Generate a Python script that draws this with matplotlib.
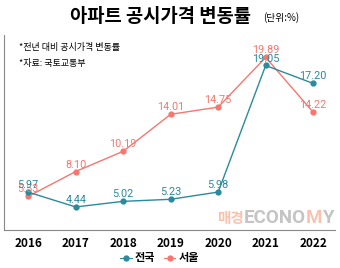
import matplotlib.pyplot as plt
from matplotlib.lines import Line2D

plt.rcParams['font.family'] = ['Noto Sans CJK KR', 'DejaVu Sans']

years = [2016, 2017, 2018, 2019, 2020, 2021, 2022]
national = [5.97, 4.44, 5.02, 5.23, 5.98, 19.05, 17.20]
seoul = [5.53, 8.10, 10.19, 14.01, 14.75, 19.89, 14.22]
nat_labels = ['5.97', '4.44', '5.02', '5.23', '5.98', '19.05', '17.20']
seoul_labels = ['5.53', '8.10', '10.19', '14.01', '14.75', '19.89', '14.22']

teal = '#2b8a9c'
salmon = '#f7766e'

fig = plt.figure(figsize=(3.4, 2.68), dpi=100)
ax = fig.add_axes([4/340, 1 - 230/268, 331/340, 195/268])

ax.plot(years, seoul, color=salmon, lw=1, marker='o', ms=3.5, zorder=3)
ax.plot(years, national, color=teal, lw=1, marker='o', ms=3.5, zorder=4)

for x, y, t in zip(years, seoul, seoul_labels):
    ax.annotate(t, (x, y), xytext=(0, 5), textcoords='offset points',
                ha='center', va='center', color=salmon, fontsize=7.8,
                family='Roboto', zorder=5)
for x, y, t in zip(years, national, nat_labels):
    ax.annotate(t, (x, y), xytext=(0, 5), textcoords='offset points',
                ha='center', va='center', color=teal, fontsize=7.8,
                family='Roboto', zorder=6)

ax.set_xlim(2015.49, 2022.46)
ax.set_ylim(2.06, 22.2)
ax.set_yticks([])
ax.set_xticks(years)
ax.set_xticklabels([str(y) for y in years], fontsize=8.5, fontweight='bold')
ax.tick_params(axis='x', length=0, pad=5)
for s in ['top', 'right']:
    ax.spines[s].set_visible(False)
ax.spines['left'].set_color('#888888')
ax.spines['bottom'].set_color('#888888')
ax.spines['left'].set_linewidth(0.8)
ax.spines['bottom'].set_linewidth(0.8)

# notes
ax.text(0.045, 0.935, '*전년 대비 공시가격 변동률', transform=ax.transAxes,
        fontsize=6.5, va='center')
ax.text(0.045, 0.855, '*자료: 국토교통부', transform=ax.transAxes,
        fontsize=6.5, va='center')

# watermark, pieces placed one after another
fig.canvas.draw()
r = fig.canvas.get_renderer()
wm_y = 1 - 218/268
xpos = 217
for piece, col, fam in [('매경', '#f8c2ae', 'Noto Sans CJK KR'),
                        ('ECONO', '#c4c4c4', 'Roboto'),
                        ('M', '#f8c2ae', 'Roboto'),
                        ('Y', '#c4c4c4', 'Roboto')]:
    t = fig.text(xpos/340, wm_y, piece, color=col, fontsize=13.5 if fam == 'Roboto' else 10.5,
                 fontweight='bold', va='center', family=fam)
    xpos += t.get_window_extent(r).width

# title
fig.text(160/340, 1 - 17/268, '아파트 공시가격 변동률', ha='center', va='center',
         fontsize=13.5, fontweight='black')
fig.text(263/340, 1 - 18/268, '(단위:%)', ha='left', va='center', fontsize=7)

handles = [Line2D([], [], color=teal, marker='o', ms=3.5, lw=0.8),
           Line2D([], [], color=salmon, marker='o', ms=3.5, lw=0.8)]
fig.legend(handles, ['전국', '서울'], loc='center', bbox_to_anchor=(0.47, 1 - 258/268),
           ncol=2, frameon=False, handlelength=1.0, handletextpad=0.3,
           columnspacing=0.8, prop={'weight': 'bold', 'size': 8})

fig.savefig('out.png', dpi=100)
